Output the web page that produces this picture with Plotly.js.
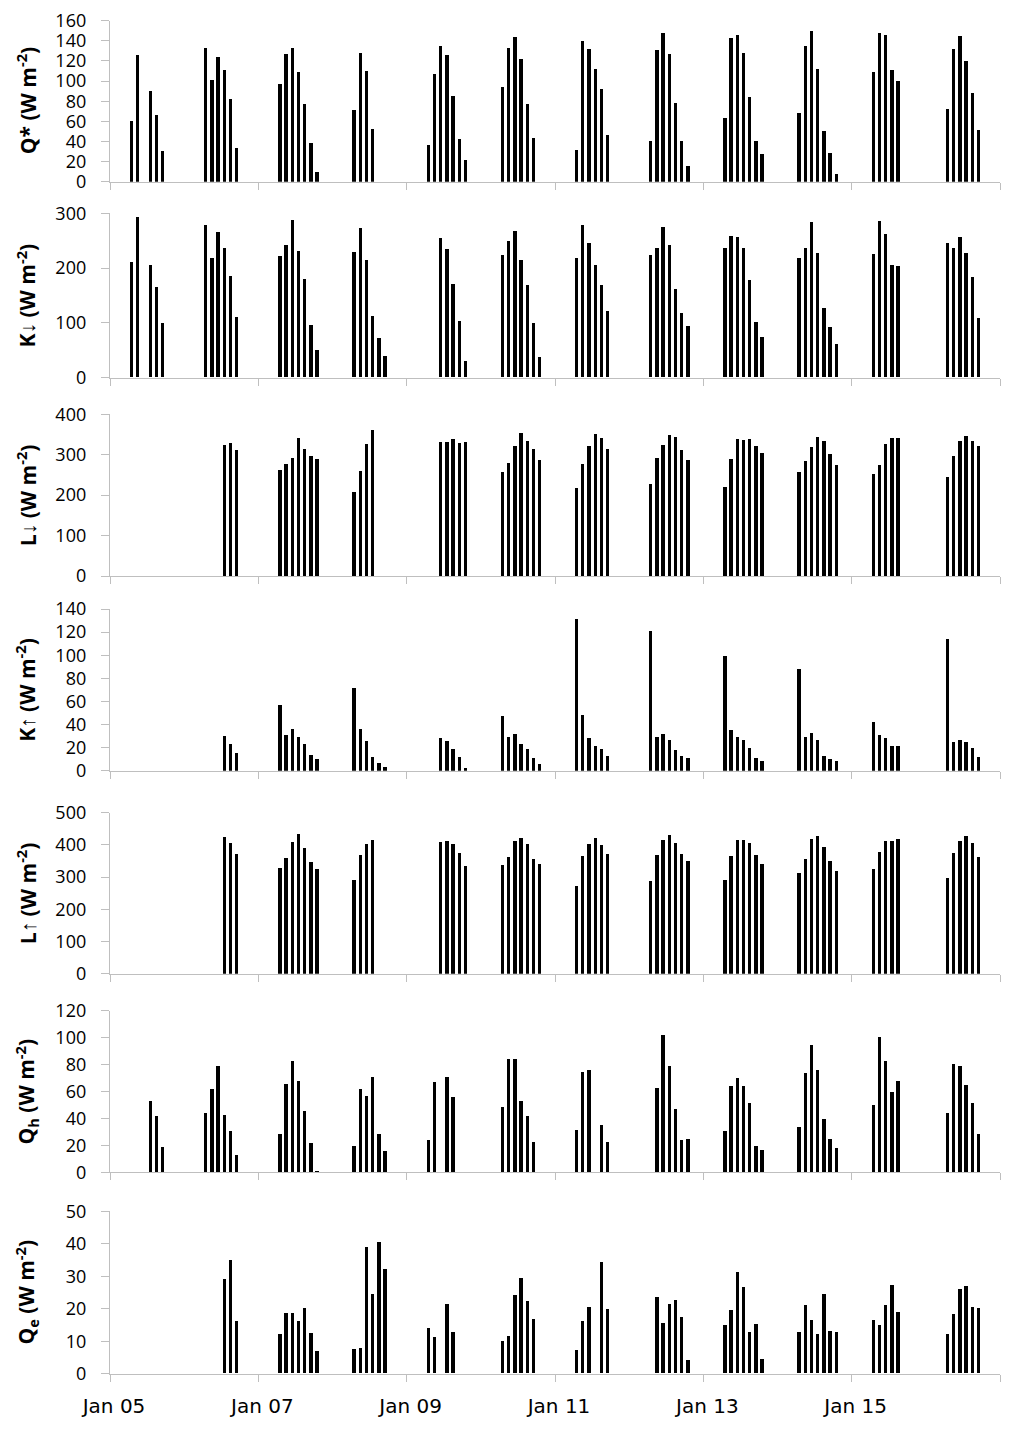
<!DOCTYPE html>
<html>
<head>
<meta charset="utf-8">
<script src="https://cdn.plot.ly/plotly-3.0.1.min.js"></script>
<style>
  body { margin: 0; background: white; }
  #chart { width: 1015px; height: 1430px; }
</style>
</head>
<body>
<div id="chart"></div>
<script>

// =========================
// DATA (one row per day, hours 07..19 every 2 h)
// =========================

const days = [
  "2013-01-05", "2013-01-06", "2013-01-07", "2013-01-08",
  "2013-01-09", "2013-01-10", "2013-01-11", "2013-01-12",
  "2013-01-13", "2013-01-14", "2013-01-15", "2013-01-16"
];

const hours = [7, 9, 11, 13, 15, 17, 19];

const tickDates = [
  "2013-01-05", "2013-01-07", "2013-01-09", "2013-01-11",
  "2013-01-13", "2013-01-15"
];

const tickLabels = ["Jan 05", "Jan 07", "Jan 09", "Jan 11", "Jan 13", "Jan 15"];

const rangeStart = "2013-01-05";
const rangeEnd = "2013-01-17";

const qStar = [
  [61, 126, null, 90, 67, 31, null],
  [133, 101, 124, 111, 82, 34, null],
  [97, 127, 133, 109, 78, 39, 10],
  [72, 128, 110, 53, null, null, null],
  [37, 107, 135, 126, 85, 43, 22],
  [94, 133, 144, 122, 78, 44, null],
  [32, 140, 132, 112, 92, 47, null],
  [41, 131, 148, 127, 79, 41, 16],
  [64, 143, 146, 128, 84, 41, 28],
  [69, 135, 150, 112, 51, 29, 8],
  [109, 148, 146, 111, 100, null, null],
  [73, 132, 145, 120, 88, 52, null]
];

const kDown = [
  [210, 293, null, 206, 165, 100, null],
  [278, 217, 266, 236, 185, 111, null],
  [222, 241, 287, 231, 179, 95, 50],
  [228, 273, 214, 112, 71, 39, null],
  [null, null, 254, 234, 170, 103, 30],
  [223, 249, 268, 214, 168, 100, 38],
  [218, 279, 245, 205, 169, 122, null],
  [223, 237, 274, 242, 161, 117, 93],
  [237, 258, 257, 237, 177, 102, 74],
  [217, 237, 284, 227, 127, 92, 61],
  [226, 285, 262, 206, 203, null, null],
  [245, 236, 256, 227, 183, 108, null]
];

const lDown = [
  [null, null, null, null, null, null, null],
  [null, null, null, 324, 328, 311, null],
  [261, 277, 291, 340, 314, 297, 288],
  [208, 259, 325, 360, null, null, null],
  [null, null, 330, 331, 337, 328, 330],
  [257, 279, 320, 352, 332, 313, 285],
  [218, 277, 320, 351, 341, 313, null],
  [228, 291, 324, 347, 343, 312, 285],
  [219, 288, 337, 335, 337, 322, 304],
  [256, 284, 318, 343, 332, 301, 275],
  [252, 273, 326, 341, 341, null, null],
  [243, 297, 332, 346, 333, 320, null]
];

const kUp = [
  [null, null, null, null, null, null, null],
  [null, null, null, 30, 23, 15, null],
  [57, 31, 36, 29, 23, 14, 10],
  [72, 36, 26, 12, 7, 3, null],
  [null, null, 28, 26, 19, 12, 2],
  [47, 29, 32, 23, 19, 11, 6],
  [131, 48, 28, 21, 19, 13, null],
  [121, 29, 32, 27, 18, 13, 11],
  [99, 35, 29, 27, 20, 11, 8],
  [88, 29, 33, 27, 13, 10, 8],
  [42, 31, 28, 21, 21, null, null],
  [114, 25, 27, 25, 20, 12, null]
];

const lUp = [
  [null, null, null, null, null, null, null],
  [null, null, null, 427, 408, 373, null],
  [328, 361, 409, 434, 392, 347, 326],
  [292, 369, 403, 415, null, null, null],
  [null, null, 409, 413, 403, 377, 334],
  [339, 363, 413, 421, 404, 358, 341],
  [272, 368, 404, 421, 402, 373, null],
  [289, 370, 417, 433, 406, 373, 350],
  [291, 368, 416, 415, 408, 370, 343],
  [314, 356, 418, 430, 393, 352, 320],
  [327, 378, 412, 414, 420, null, null],
  [299, 376, 414, 428, 408, 362, null]
];

const qH = [
  [null, null, null, 53, 42, 19, null],
  [44, 62, 79, 43, 31, 13, null],
  [29, 66, 83, 68, 46, 22, 1.5],
  [20, 62, 57, 71, 29, 16, null],
  [24, 67, null, 71, 56, null, null],
  [49, 84, 84, 53, 42, 23, null],
  [32, 75, 76, null, 35, 23, null],
  [null, 63, 102, 79, 47, 24, 25],
  [31, 64, 70, 64, 52, 20, 17],
  [34, 74, 95, 76, 40, 25, 18],
  [50, 101, 83, 60, 68, null, null],
  [44, 81, 79, 65, 52, 29, null]
];

const qE = [
  [null, null, null, null, null, null, null],
  [null, null, null, 29.1, 35, 16.2, null],
  [12.2, 18.5, 18.5, 16.2, 20, 12.4, 7],
  [7.4, 7.9, 38.9, 24.3, 40.5, 32, null],
  [13.9, 11.3, null, 21.4, 12.6, null, null],
  [9.9, 11.5, 24, 29.5, 22.3, 16.8, null],
  [7.1, 16.2, 20.4, null, 34.2, 19.8, null],
  [null, 23.4, 15.4, 21.5, 22.5, 17.4, 4],
  [14.8, 19.4, 31.1, 26.6, 12.7, 15.1, 4.4],
  [12.8, 21, 16.4, 12.1, 24.5, 13.2, 12.6],
  [16.4, 14.9, 21.2, 27.2, 18.9, null, null],
  [12.2, 18.2, 26.1, 26.9, 20.3, 20, null]
];

const panelSeries = [qStar, kDown, lDown, kUp, lUp, qH, qE];

const panelTitles = [
  "Q* (W m<sup>-2</sup>)",
  "K\u2193 (W m<sup>-2</sup>)",
  "L\u2193 (W m<sup>-2</sup>)",
  "K\u2191 (W m<sup>-2</sup>)",
  "L\u2191 (W m<sup>-2</sup>)",
  "Q<sub>h</sub> (W m<sup>-2</sup>)",
  "Q<sub>e</sub> (W m<sup>-2</sup>)"
];

const panelMax = [160, 300, 400, 140, 500, 120, 50];
const panelStep = [20, 100, 100, 20, 100, 20, 10];

// =========================
// LAYOUT (pixel positions)
// =========================

const W = 1015;
const H = 1430;

const plotLeft = 110;
const plotRight = 1000;

const panelTop = [20.7, 213.3, 414.3, 609, 812.7, 1010.7, 1211.3];
const panelBottom = [181.7, 377.7, 576, 770.7, 973.7, 1172.3, 1373.7];

const axisGrey = "#bfbfbf";
const twoDays = 2 * 86400000;

// =========================
// BUILD TRACES
// =========================

function pad2(n){
  return String(n).padStart(2, "0");
}

let traces = [];

let layout = {
  width: W,
  height: H,
  margin: {l: 0, r: 0, t: 0, b: 0},
  paper_bgcolor: "white",
  plot_bgcolor: "white",
  showlegend: false,
  bargap: 0,
  annotations: []
};

for(let p = 0; p < panelSeries.length; p++){

  let x = [];
  let y = [];

  for(let d = 0; d < days.length; d++){

    for(let h = 0; h < hours.length; h++){

      x.push(days[d] + " " + pad2(hours[h]) + ":00");

      y.push(panelSeries[p][d][h]);

    }

  }

  let n = p + 1;
  let xName = n === 1 ? "x" : "x" + n;
  let yName = n === 1 ? "y" : "y" + n;

  traces.push({
    type: "bar",
    x: x,
    y: y,
    xaxis: xName,
    yaxis: yName,
    width: 3.9e6,
    marker: {color: "black", line: {width: 0}},
    hoverinfo: "x+y"
  });

  let isBottom = p === panelSeries.length - 1;

  // date axis: labels only on the bottom panel, tick marks every 2 days on all
  layout[n === 1 ? "xaxis" : "xaxis" + n] = {
    type: "date",
    domain: [plotLeft / W, plotRight / W],
    anchor: yName,
    range: [rangeStart, rangeEnd],
    tickmode: "array",
    tickvals: isBottom ? tickDates : [],
    ticktext: isBottom ? tickLabels : [],
    showticklabels: isBottom,
    ticks: "",
    minor: {
      tick0: rangeStart,
      dtick: twoDays,
      ticks: "outside",
      ticklen: 7,
      tickwidth: 1,
      tickcolor: axisGrey,
      showgrid: false
    },
    ticklabelstandoff: 14,
    ticklabelshift: 4,
    showline: true,
    linecolor: axisGrey,
    linewidth: 1.3,
    showgrid: false,
    zeroline: false,
    tickfont: {family: "DejaVu Sans", size: 20, color: "black"}
  };

  layout[n === 1 ? "yaxis" : "yaxis" + n] = {
    domain: [1 - panelBottom[p] / H, 1 - panelTop[p] / H],
    anchor: xName,
    range: [0, panelMax[p]],
    dtick: panelStep[p],
    tick0: 0,
    ticks: "outside",
    ticklen: 8,
    tickwidth: 1,
    tickcolor: axisGrey,
    ticklabelstandoff: 11,
    showline: true,
    linecolor: axisGrey,
    linewidth: 1.3,
    showgrid: false,
    zeroline: false,
    tickfont: {family: "Open Sans", size: 18, color: "black"}
  };

  // y title as rotated annotation
  layout.annotations.push({
    xref: "paper",
    yref: "paper",
    x: 26 / W,
    y: 1 - (panelTop[p] + panelBottom[p]) / 2 / H,
    xanchor: "center",
    yanchor: "middle",
    textangle: -90,
    showarrow: false,
    text: "<b>" + panelTitles[p] + "</b>",
    font: {family: "Open Sans", size: 21, color: "black"}
  });

}

Plotly.newPlot("chart", traces, layout, {displayModeBar: false, responsive: false});

</script>
</body>
</html>
